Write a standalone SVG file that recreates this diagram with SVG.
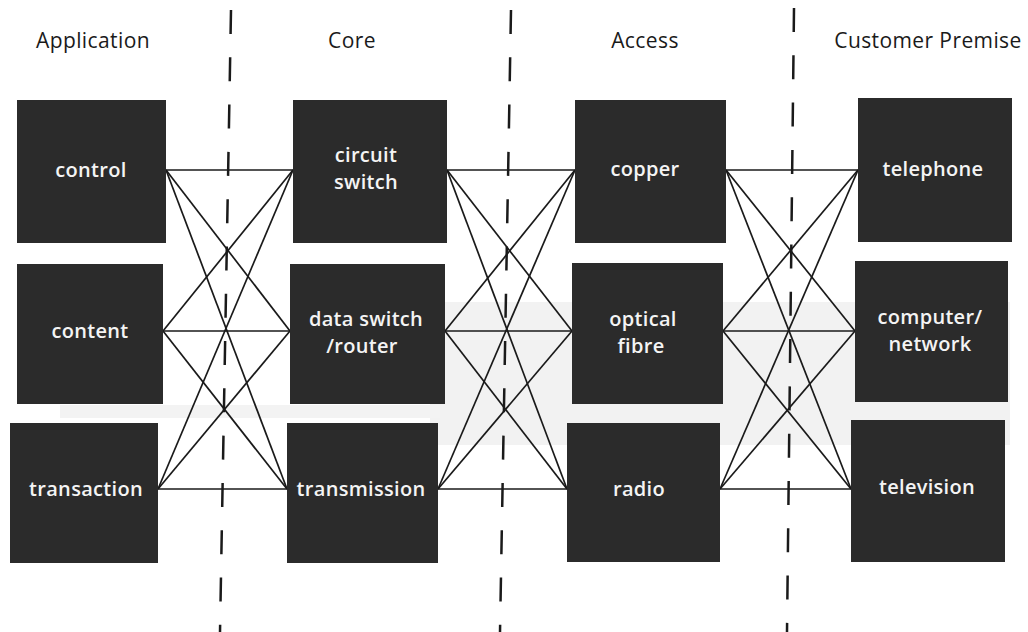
<svg xmlns="http://www.w3.org/2000/svg" width="1028" height="632" viewBox="0 0 1028 632">
  <style>
    .hdr { font-family: "Open Sans", "Liberation Sans", sans-serif; font-size: 21px; letter-spacing: 0.4px; fill: #1a1a1a; text-anchor: middle; }
    .box { fill: #2b2b2b; }
    .lbl { font-family: "Open Sans", "Liberation Sans", sans-serif; font-size: 20px; font-weight: 600; letter-spacing: 0.3px; fill: #f4f4f4; text-anchor: middle; }
    .conn line { stroke: #1a1a1a; stroke-width: 1.7; }
    .div line { stroke: #1a1a1a; stroke-width: 2.5; stroke-dasharray: 24 23.3; }
  </style>
  <rect width="1028" height="632" fill="#ffffff"/>
  <rect x="430" y="302" width="580" height="143" fill="#f2f2f2"/>
  <rect x="60" y="405" width="380" height="13" fill="#f3f3f3"/>

  <g id="headers">
    <text class="hdr" x="93" y="48">Application</text>
    <text class="hdr" x="352" y="48">Core</text>
    <text class="hdr" x="645" y="48">Access</text>
    <text class="hdr" x="928" y="48">Customer Premise</text>
  </g>

  <g id="dividers" class="div">
    <line x1="231" y1="10" x2="220" y2="632"/>
    <line x1="511" y1="10" x2="500" y2="632"/>
    <line x1="794" y1="8" x2="787" y2="632"/>
  </g>

  <g id="connectors" class="conn">
    <line x1="166" y1="170" x2="293" y2="170"/>
    <line x1="166" y1="170" x2="290" y2="331"/>
    <line x1="166" y1="170" x2="287" y2="489"/>
    <line x1="163" y1="331" x2="293" y2="170"/>
    <line x1="163" y1="331" x2="290" y2="331"/>
    <line x1="163" y1="331" x2="287" y2="489"/>
    <line x1="158" y1="489" x2="293" y2="170"/>
    <line x1="158" y1="489" x2="290" y2="331"/>
    <line x1="158" y1="489" x2="287" y2="489"/>

    <line x1="447" y1="170" x2="575" y2="170"/>
    <line x1="447" y1="170" x2="572" y2="331"/>
    <line x1="447" y1="170" x2="567" y2="489"/>
    <line x1="445" y1="331" x2="575" y2="170"/>
    <line x1="445" y1="331" x2="572" y2="331"/>
    <line x1="445" y1="331" x2="567" y2="489"/>
    <line x1="438" y1="489" x2="575" y2="170"/>
    <line x1="438" y1="489" x2="572" y2="331"/>
    <line x1="438" y1="489" x2="567" y2="489"/>

    <line x1="726" y1="170" x2="858" y2="170"/>
    <line x1="726" y1="170" x2="855" y2="331"/>
    <line x1="726" y1="170" x2="851" y2="489"/>
    <line x1="723" y1="331" x2="858" y2="170"/>
    <line x1="723" y1="331" x2="855" y2="331"/>
    <line x1="723" y1="331" x2="851" y2="489"/>
    <line x1="720" y1="489" x2="858" y2="170"/>
    <line x1="720" y1="489" x2="855" y2="331"/>
    <line x1="720" y1="489" x2="851" y2="489"/>
  </g>

  <g id="control"><rect class="box" x="17" y="100" width="149" height="143"/><text class="lbl" x="91" y="177">control</text></g>
  <g id="content"><rect class="box" x="17" y="264" width="146" height="140"/><text class="lbl" x="90" y="338">content</text></g>
  <g id="transaction"><rect class="box" x="10" y="423" width="148" height="140"/><text class="lbl" x="86" y="496">transaction</text></g>

  <g id="circuit-switch"><rect class="box" x="293" y="100" width="154" height="143"/><text class="lbl" x="366" y="162">circuit</text><text class="lbl" x="366" y="189">switch</text></g>
  <g id="data-switch"><rect class="box" x="290" y="264" width="155" height="140"/><text class="lbl" x="366" y="326">data switch</text><text class="lbl" x="362" y="353">/router</text></g>
  <g id="transmission"><rect class="box" x="287" y="423" width="151" height="140"/><text class="lbl" x="361" y="496">transmission</text></g>

  <g id="copper"><rect class="box" x="575" y="100" width="151" height="143"/><text class="lbl" x="645" y="176">copper</text></g>
  <g id="optical-fibre"><rect class="box" x="572" y="263" width="151" height="141"/><text class="lbl" x="643" y="326">optical</text><text class="lbl" x="641" y="353">fibre</text></g>
  <g id="radio"><rect class="box" x="567" y="423" width="153" height="139"/><text class="lbl" x="639" y="496">radio</text></g>

  <g id="telephone"><rect class="box" x="858" y="98" width="154" height="144"/><text class="lbl" x="933" y="176">telephone</text></g>
  <g id="computer-network"><rect class="box" x="855" y="261" width="153" height="141"/><text class="lbl" x="930" y="324">computer/</text><text class="lbl" x="930" y="351">network</text></g>
  <g id="television"><rect class="box" x="851" y="420" width="154" height="142"/><text class="lbl" x="927" y="494">television</text></g>
</svg>
